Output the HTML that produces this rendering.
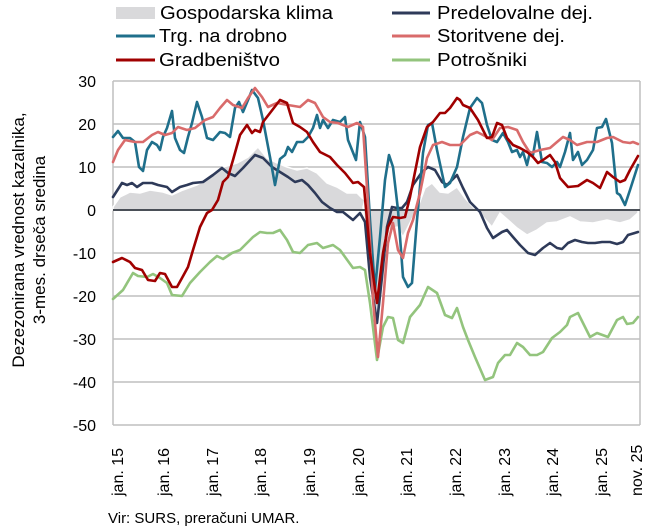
<!DOCTYPE html>
<html><head><meta charset="utf-8"><style>
body{margin:0;background:#fff}
svg{display:block;font-family:"Liberation Sans",sans-serif}
</style></head><body>
<svg width="651" height="532" viewBox="0 0 651 532">
<rect width="651" height="532" fill="#fff"/>
<!-- gridlines -->
<g stroke="#bfbfbf" stroke-width="1.5">
<line x1="113" y1="81" x2="640" y2="81"/>
<line x1="113" y1="124" x2="640" y2="124"/>
<line x1="113" y1="167" x2="640" y2="167"/>
<line x1="113" y1="253" x2="640" y2="253"/>
<line x1="113" y1="296" x2="640" y2="296"/>
<line x1="113" y1="339" x2="640" y2="339"/>
<line x1="113" y1="382" x2="640" y2="382"/>
<line x1="113" y1="425" x2="640" y2="425"/>
<line x1="113" y1="81" x2="113" y2="425"/>
<line x1="640" y1="81" x2="640" y2="425"/>
</g>
<!-- area -->
<polygon fill="#d9d9db" stroke="#fff" stroke-width="1.5" points="113,210 113,207 120,197 130,192 140,193 150,190 163,192 172,195 183,190 197,185 210,177 223,167 237,163 248,157 258,147 267,158 277,163 287,167 297,170 307,168 317,173 327,183 337,187 347,193 357,193 362,198 365,200 363,207 370,270 377,330 383,267 390,230 397,227 403,237 410,223 418,207 425,188 432,183 440,192 448,193 457,187 465,198 473,207 483,217 492,227 500,213 508,220 517,228 527,235 537,230 547,223 557,222 570,217 580,222 593,223 607,220 620,223 630,220 638,213 638,210"/>
<line x1="113" y1="210" x2="640" y2="210" stroke="#4a4f57" stroke-width="2"/>
<g fill="none" stroke-width="2.6" stroke-linejoin="round" stroke-linecap="round">
<polyline stroke="#93c47d" points="113,299 123,290 133,273 138,276 147,277 153,274 160,278 167,283 172,295 182,296 190,283 200,272 210,262 217,256 223,259 232,253 240,250 247,243 253,237 260,232 267,233 273,233 280,230 287,240 293,252 300,253 308,245 317,243 323,248 333,245 340,250 353,268 360,267 365,270 370,303 377,360 383,327 388,317 393,318 398,340 403,343 410,317 420,305 428,287 437,293 445,315 452,318 457,308 463,327 468,340 475,357 485,380 493,377 498,363 505,355 510,355 517,343 523,347 530,355 537,355 543,352 552,338 560,332 567,325 570,317 578,313 590,337 597,333 608,337 617,320 623,317 627,324 633,323 638,317"/>
<polyline stroke="#2e3a59" points="113,197 122,183 127,185 132,183 137,187 143,183 152,183 158,185 167,187 172,192 180,187 187,185 193,183 203,182 213,175 222,168 228,173 235,176 243,168 255,155 263,158 272,167 280,172 288,177 295,182 302,180 308,185 315,193 322,202 330,208 337,212 343,212 353,220 360,213 365,222 370,277 377,323 382,277 387,227 392,207 397,208 402,208 407,202 413,185 422,172 428,167 435,170 442,182 447,185 452,180 457,175 463,188 470,202 480,212 487,228 493,238 502,232 507,230 513,237 520,245 528,253 535,255 543,248 550,243 557,248 562,249 568,243 575,240 582,242 588,243 595,243 602,242 610,242 617,244 623,242 628,235 638,232"/>
<polyline stroke="#1f6f8b" points="113,137 118,131 123,138 130,138 135,142 139,167 143,171 147,150 152,142 157,145 160,150 163,137 167,128 172,111 175,138 180,150 184,153 188,137 192,123 197,102 202,117 207,138 213,140 220,132 225,133 230,137 235,108 239,102 243,112 248,100 252,90 258,98 263,120 270,157 275,185 280,159 285,155 288,147 292,152 297,142 303,142 308,137 313,128 317,115 320,128 323,120 328,128 333,120 340,122 345,117 348,140 356,160 360,122 365,137 370,220 375,290 380,237 385,180 389,155 393,167 398,210 403,277 408,287 412,283 417,220 423,153 428,125 432,123 437,150 445,187 450,183 457,167 463,137 470,108 477,98 482,103 487,125 492,140 497,142 503,133 508,142 512,152 517,150 520,157 523,152 527,165 530,152 533,155 537,132 542,162 547,163 552,167 557,162 560,167 565,152 570,133 573,160 578,152 582,165 587,160 593,150 597,128 602,127 606,119 612,143 617,193 620,195 625,205 630,190 638,165"/>
<polyline stroke="#d96b6b" points="113,162 118,150 125,140 135,142 143,142 152,135 158,132 165,135 172,133 178,127 187,130 195,128 205,120 213,117 220,108 227,100 233,105 242,108 248,98 255,88 262,97 268,107 277,103 288,105 300,107 308,100 315,103 323,117 330,122 338,123 348,127 357,123 363,127 368,203 373,300 378,357 383,303 388,243 393,223 398,250 403,258 408,233 413,220 420,193 427,158 433,145 442,142 450,145 460,145 470,135 477,132 483,135 492,140 500,128 508,127 517,130 523,142 530,153 540,150 550,148 557,142 563,137 570,140 577,145 587,142 597,142 607,138 613,137 623,142 630,143 633,142 638,144"/>
<polyline stroke="#a00000" points="113,262 122,258 130,262 135,268 142,270 148,280 155,281 160,273 165,274 172,287 177,287 182,278 188,267 193,250 200,227 207,213 212,210 218,200 223,182 228,177 233,160 240,135 247,125 252,133 255,130 260,132 263,122 270,113 280,100 287,103 293,123 300,127 307,132 313,142 320,152 330,157 337,165 345,173 353,183 358,182 364,187 370,253 377,303 383,253 388,227 393,217 400,218 405,217 410,197 420,147 427,127 433,122 440,113 445,113 450,108 457,98 460,100 463,105 470,108 478,120 487,138 492,137 497,123 502,125 507,138 513,145 520,148 527,152 533,157 538,163 543,160 550,155 555,162 560,178 568,187 578,186 587,180 593,183 600,188 607,172 613,177 620,182 625,180 630,170 638,156"/>
</g>
<!-- y labels -->
<g font-size="16" fill="#000" text-anchor="end">
<text x="96" y="87">30</text><text x="96" y="130">20</text><text x="96" y="173">10</text><text x="96" y="216">0</text>
<text x="96" y="259">-10</text><text x="96" y="302">-20</text><text x="96" y="345">-30</text><text x="96" y="388">-40</text><text x="96" y="431">-50</text>
</g>
<g font-size="16" fill="#000" text-anchor="start">
<text transform="translate(123,496) rotate(-90)">jan. 15</text>
<text transform="translate(169,496) rotate(-90)">jan. 16</text>
<text transform="translate(218,496) rotate(-90)">jan. 17</text>
<text transform="translate(266,496) rotate(-90)">jan. 18</text>
<text transform="translate(315,496) rotate(-90)">jan. 19</text>
<text transform="translate(364,496) rotate(-90)">jan. 20</text>
<text transform="translate(412,496) rotate(-90)">jan. 21</text>
<text transform="translate(461,496) rotate(-90)">jan. 22</text>
<text transform="translate(510,496) rotate(-90)">jan. 23</text>
<text transform="translate(558,496) rotate(-90)">jan. 24</text>
<text transform="translate(607,496) rotate(-90)">jan. 25</text>
<text transform="translate(642,496) rotate(-90)">nov. 25</text>
</g>
<g font-size="17" fill="#000" text-anchor="middle">
<text transform="translate(24,240) rotate(-90)">Dezezonirana vrednost kazalnika,</text>
<text transform="translate(45,240) rotate(-90)">3-mes. drseča sredina</text>
</g>
<text x="108" y="523" font-size="15" fill="#000">Vir: SURS, preračuni UMAR.</text>
<!-- legend -->
<rect x="116" y="7" width="39" height="12" fill="#d9d9db"/>
<line x1="116" y1="36" x2="155" y2="36" stroke="#1f6f8b" stroke-width="3"/>
<line x1="116" y1="60" x2="155" y2="60" stroke="#a00000" stroke-width="3"/>
<line x1="392" y1="13" x2="430" y2="13" stroke="#2e3a59" stroke-width="3"/>
<line x1="392" y1="36" x2="430" y2="36" stroke="#d96b6b" stroke-width="3"/>
<line x1="392" y1="60" x2="430" y2="60" stroke="#93c47d" stroke-width="3"/>
<g font-size="18" fill="#000">
<text x="160" y="19" textLength="173" lengthAdjust="spacingAndGlyphs">Gospodarska klima</text>
<text x="159" y="42" textLength="128" lengthAdjust="spacingAndGlyphs">Trg. na drobno</text>
<text x="159" y="66" textLength="121" lengthAdjust="spacingAndGlyphs">Gradbeništvo</text>
<text x="437" y="19" textLength="156" lengthAdjust="spacingAndGlyphs">Predelovalne dej.</text>
<text x="437" y="42" textLength="128" lengthAdjust="spacingAndGlyphs">Storitvene dej.</text>
<text x="437" y="66" textLength="90" lengthAdjust="spacingAndGlyphs">Potrošniki</text>
</g>
</svg>
</body></html>
